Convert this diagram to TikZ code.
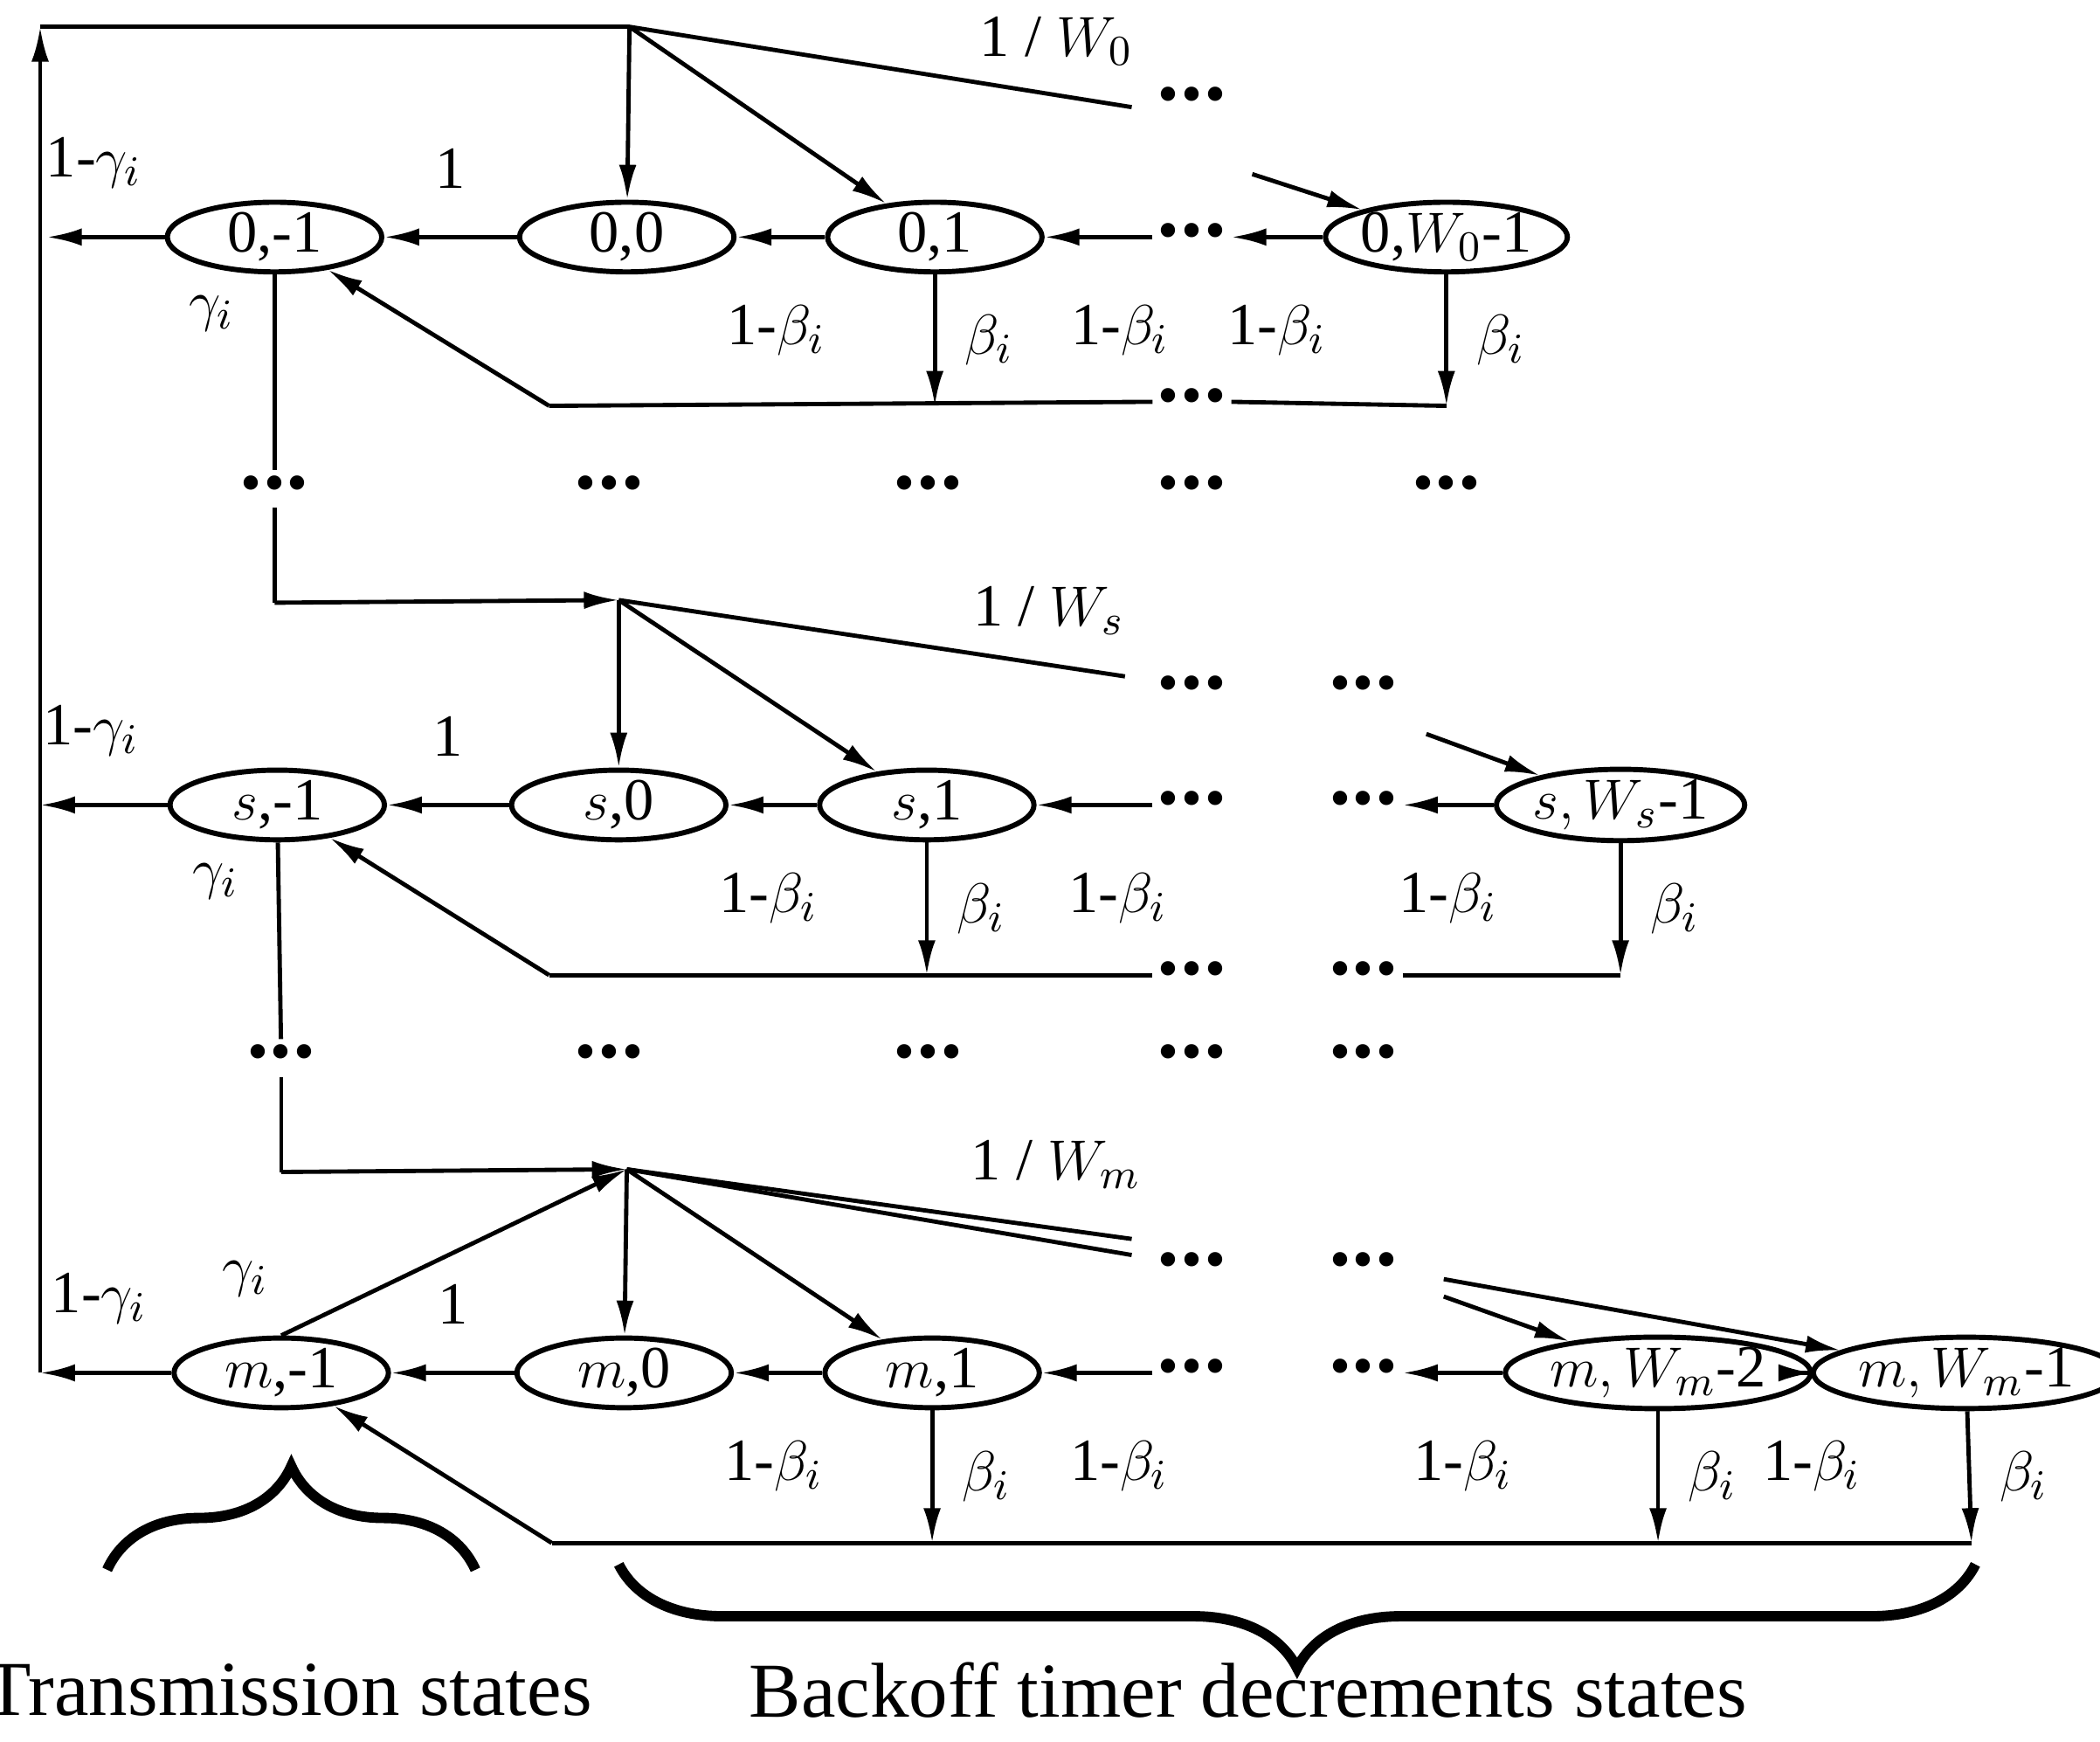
\documentclass[tikz,border=0pt]{standalone}
\usepackage{fontspec}
\setmainfont{Liberation Serif}
\usetikzlibrary{arrows.meta, shapes.geometric, decorations.pathreplacing}
\newcommand{\dts}{\textbullet\hspace{0.5pt}\textbullet\hspace{0.5pt}\textbullet}
\newcommand{\ob}{1-$\beta_i$}
\tikzset{
  st/.style={draw, ellipse, line width=1.1pt, minimum width=1.6cm, minimum height=0.52cm, inner sep=0pt},
  ar/.style={line width=0.9pt, -{Latex[length=2.6mm,width=1.3mm]}},
  ln/.style={line width=0.9pt},
  dt/.style={inner sep=1pt},
  lb/.style={inner sep=0pt}
}
\begin{document}
\begin{tikzpicture}[x=0.01cm, y=-0.01cm, font=\fontsize{12.7}{15}\selectfont]
\useasboundingbox (0,0) rectangle (1568,1300);
% Row 0
\node[st] (a1) at (205,177) {0,-1};
\node[st] (a2) at (468,177) {0,0};
\node[st] (a3) at (698,177) {0,1};
\node[dt] (ad) at (890,177) {\dts};
\node[st] (a4) at (1080,177) {0,$W_0$-1};
\coordinate (h0) at (470,20);
\coordinate (tl) at (30,20);
\coordinate (bl) at (30,1025);
\coordinate (a1l) at (35,177);
\coordinate (a0e) at (845,80);
\node[dt] (atd) at (890,75) {\dts};
\coordinate (a0s) at (935,130);
\coordinate (ab1) at (410,303);
\coordinate (ab3) at (698,303);
\coordinate (ab4) at (1080,303);
\node[dt] (abd) at (890,300) {\dts};
\draw[ar] (bl) -- (tl);
\draw[ln] (tl) -- (h0);
\draw[ar] (h0) -- (a2);
\draw[ar] (h0) -- (a3);
\draw[ln] (h0) -- (a0e) node[lb, pos=0.85, above=6pt] {1 / $W_0$};
\draw[ar] (a0s) -- (a4);
\draw[ar] (a1) -- (a1l) node[lb, pos=0.6, above=10pt] {1-$\gamma_i$};
\draw[ar] (a2) -- (a1) node[lb, midway, above=10pt] {1};
\draw[ar] (a3) -- (a2) node[lb, pos=0.55, below=14pt] {\ob};
\draw[ar] (ad) -- (a3) node[lb, pos=0.3, below=14pt] {\ob};
\draw[ar] (a4) -- (ad) node[lb, pos=0.5, below=14pt] {\ob};
\draw[ar] (a3) -- (ab3) node[lb, midway, right=6pt] {$\beta_i$};
\draw[ar] (a4) -- (ab4) node[lb, midway, right=6pt] {$\beta_i$};
\draw[ln] (ab1) -- (abd.west);
\draw[ln] (abd.east) -- (ab4);
\draw[ar] (ab1) -- (a1);
% dots between rows
\node[dt] (r1a) at (205,365) {\dts};
\foreach \x/\n in {455/b,693/c,890/d,1080/e} \node[dt] (r1\n) at (\x,365) {\dts};
\coordinate (h1) at (462,448);
\coordinate (j1) at (205,450);
\draw[ln] (a1) -- (r1a) node[lb, pos=0.2, left=8pt] {$\gamma_i$};
\draw[ln] (r1a) -- (j1);
\draw[ar] (j1) -- (h1);
% Row s
\node[st] (s1) at (207,601) {$s$,-1};
\node[st] (s2) at (462,601) {$s$,0};
\node[st] (s3) at (692,601) {$s$,1};
\node[dt] (sd1) at (890,601) {\dts};
\node[dt] (sd2) at (1018,601) {\dts};
\node[st] (s4) at (1210,601) {$s,W_s$-1};
\coordinate (s1l) at (30,601);
\coordinate (s0e) at (840,505);
\node[dt] (std1) at (890,515) {\dts};
\node[dt] (std2) at (1018,515) {\dts};
\coordinate (s0s) at (1065,548);
\coordinate (sb1) at (410,728);
\coordinate (sb3) at (692,728);
\coordinate (sb4) at (1210,728);
\node[dt] (sbd1) at (890,728) {\dts};
\node[dt] (sbd2) at (1018,728) {\dts};
\draw[ar] (h1) -- (s2);
\draw[ar] (h1) -- (s3);
\draw[ln] (h1) -- (s0e) node[lb, pos=0.85, above=6pt] {1 / $W_s$};
\draw[ar] (s0s) -- (s4);
\draw[ar] (s1) -- (s1l) node[lb, pos=0.6, above=10pt] {1-$\gamma_i$};
\draw[ar] (s2) -- (s1) node[lb, midway, above=10pt] {1};
\draw[ar] (s3) -- (s2) node[lb, pos=0.55, below=14pt] {\ob};
\draw[ar] (sd1) -- (s3) node[lb, pos=0.3, below=14pt] {\ob};
\draw[ar] (s4) -- (sd2) node[lb, pos=0.5, below=14pt] {\ob};
\draw[ar] (s3) -- (sb3) node[lb, midway, right=6pt] {$\beta_i$};
\draw[ar] (s4) -- (sb4) node[lb, midway, right=6pt] {$\beta_i$};
\draw[ln] (sb1) -- (sbd1.west);
\draw[ln] (sbd2.east) -- (sb4);
\draw[ar] (sb1) -- (s1);
% dots between rows
\node[dt] (r2a) at (210,790) {\dts};
\foreach \x/\n in {455/b,693/c,890/d,1018/e} \node[dt] (r2\n) at (\x,790) {\dts};
\coordinate (h2) at (468,873);
\coordinate (j2) at (210,875);
\draw[ln] (s1) -- (r2a) node[lb, pos=0.2, left=8pt] {$\gamma_i$};
\draw[ln] (r2a) -- (j2);
\draw[ar] (j2) -- (h2);
% Row m
\node[st] (m1) at (210,1025) {$m$,-1};
\node[st] (m2) at (466,1025) {$m$,0};
\node[st] (m3) at (696,1025) {$m$,1};
\node[dt] (md1) at (890,1025) {\dts};
\node[dt] (md2) at (1018,1025) {\dts};
\node[st] (m4) at (1238,1025) {$m,W_m$-2};
\node[st] (m5) at (1468,1025) {$m,W_m$-1};
\coordinate (m0e1) at (845,925);
\coordinate (m0e2) at (845,937);
\node[dt] (mtd1) at (890,945) {\dts};
\node[dt] (mtd2) at (1018,945) {\dts};
\coordinate (m0s1) at (1078,968);
\coordinate (m0s2) at (1078,955);
\coordinate (mb1) at (412,1152);
\coordinate (mb3) at (696,1152);
\coordinate (mb4) at (1238,1152);
\coordinate (mb5) at (1472,1152);
\draw[ar] (m1.north) -- (h2) node[lb, pos=0.05, above left=6pt] {$\gamma_i$};
\draw[ar] (h2) -- (m2);
\draw[ar] (h2) -- (m3);
\draw[ln] (h2) -- (m0e1) node[lb, pos=0.85, above=8pt] {1 / $W_m$};
\draw[ln] (h2) -- (m0e2);
\draw[ar] (m0s1) -- (m4);
\draw[ar] (m0s2) -- (m5);
\draw[ar] (m1) -- (bl) node[lb, pos=0.55, above=10pt] {1-$\gamma_i$};
\draw[ar] (m2) -- (m1) node[lb, midway, above=10pt] {1};
\draw[ar] (m3) -- (m2) node[lb, pos=0.55, below=14pt] {\ob};
\draw[ar] (md1) -- (m3) node[lb, pos=0.3, below=14pt] {\ob};
\draw[ar] (m4) -- (md2) node[lb, pos=0.4, below=14pt] {\ob};
\draw[ar] (m5) -- (m4) node[lb, pos=0.5, below=14pt] {\ob};
\draw[ar] (m3) -- (mb3) node[lb, midway, right=6pt] {$\beta_i$};
\draw[ar] (m4) -- (mb4) node[lb, midway, right=6pt] {$\beta_i$};
\draw[ar] (m5) -- (mb5) node[lb, midway, right=6pt] {$\beta_i$};
\draw[ln] (mb1) -- (mb5);
\draw[ar] (mb1) -- (m1);
% braces
\coordinate (br1) at (80,1172);
\coordinate (br2) at (355,1172);
\coordinate (br3) at (462,1168);
\coordinate (br4) at (1475,1168);
\draw[line width=2.2pt, decorate, decoration={brace, amplitude=22pt, mirror}] (br2) -- (br1);
\draw[line width=2.2pt, decorate, decoration={brace, amplitude=22pt}] (br4) -- (br3);
\node[font=\fontsize{16.5}{19}\selectfont] (tx) at (215,1262) {Transmission states};
\node[font=\fontsize{16.5}{19}\selectfont] (bo) at (932,1262) {Backoff timer decrements states};
\end{tikzpicture}
\end{document}
